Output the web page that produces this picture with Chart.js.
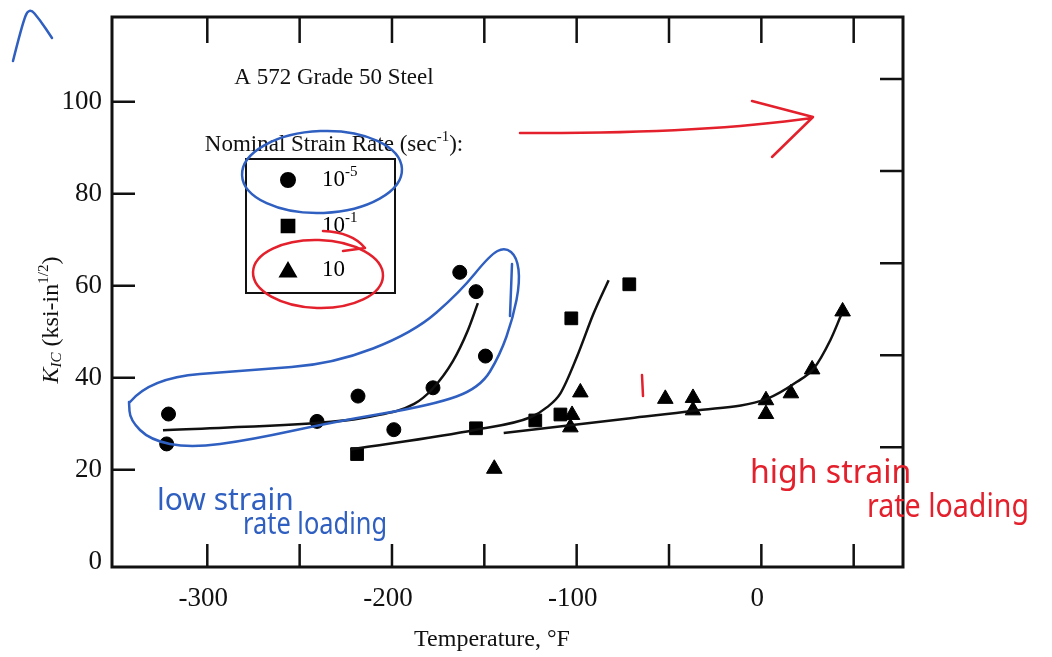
<!DOCTYPE html>
<html>
<head>
<meta charset="utf-8">
<script src="https://cdn.jsdelivr.net/npm/chart.js@4.4.1/dist/chart.umd.min.js"></script>
<style>
  html, body { margin: 0; padding: 0; background: #fff; }
  #wrap { width: 1052px; height: 657px; }
</style>
</head>
<body>
<div id="wrap"><canvas id="kic-chart" width="1052" height="657"></canvas></div>
<script>
// K_IC test points (temperature in °F, K_IC in ksi-in^1/2)
const temps5 = [-322, -321, -240.6, -218.4, -199, -177.8, -163.3, -154.5, -149.4];
const kic5 = [25.6, 32.1, 30.5, 36.0, 28.7, 37.8, 62.9, 58.7, 44.7];

const temps1 = [-218.9, -154.5, -122.4, -108.8, -102.9, -71.5];
const kic1 = [23.4, 29.0, 30.7, 32.0, 52.9, 60.3];

const temps10 = [-144.6, -103.4, -102.5, -98.0, -52, -37, -37, 2.5, 2.5, 16, 27.5, 44];
const kic10 = [20.2, 29.2, 31.9, 36.8, 35.4, 35.6, 32.9, 35.1, 32.1, 36.6, 41.8, 54.4];

// hand-fitted trend curves
const fit5T = [-324, -233, -212, -188, -178, -167, -159, -153.5];
const fit5K = [28.6, 30.4, 31.5, 34.3, 37.6, 43.6, 50.2, 56.2];
const fit1T = [-222.5, -154.5, -125, -116, -108.8, -99.8, -90.8, -82.7];
const fit1K = [24.4, 28.7, 31.4, 33.6, 36.6, 44.6, 54.0, 61.2];
const fit10T = [-139.5, -70.9, -36.6, 3, 19.3, 28.4, 37.4, 43.2];
const fit10K = [28.0, 31.2, 32.8, 35.4, 39.1, 42.0, 48.2, 53.6];

// axes
const xLabelTicks = [-300, -200, -100, 0];
const xTickMarks = [-300, -250, -200, -150, -100, -50, 0, 50];
const yTicks = [0, 20, 40, 60, 80, 100];
const yTickMarks = [20, 40, 60, 80, 100];
const rightTicks = [24.9, 44.9, 64.9, 84.9, 104.9];

const legendLabels = [['10', '-5'], ['10', '-1'], ['10', '']];
const legendStyles = ['circle', 'rect', 'triangle'];

const serif = '"Liberation Serif", "Times New Roman", serif';
const hand = '"Noto Sans", "DejaVu Sans", sans-serif';

const toPoints = (xs, ys) => xs.map((t, i) => ({ x: t, y: ys[i] }));

function fontOf(p) {
    return (p.italic ? 'italic ' : '') + p.size + 'px ' + serif;
}

// draws a run of text pieces (for sub/superscripts)
function drawRich(ctx, parts, x, y, align) {
    let w = 0;
    parts.forEach(p => { ctx.font = fontOf(p); w += ctx.measureText(p.t).width; });
    let cx = align === 'center' ? x - w / 2 : x;
    parts.forEach(p => {
        ctx.font = fontOf(p);
        ctx.fillText(p.t, cx, y + (p.dy || 0));
        cx += ctx.measureText(p.t).width;
    });
}

function smoothPath(ctx, pts) {
    ctx.beginPath();
    ctx.moveTo(pts[0][0], pts[0][1]);
    for (let i = 1; i < pts.length - 1; i++) {
        const mx = (pts[i][0] + pts[i + 1][0]) / 2;
        const my = (pts[i][1] + pts[i + 1][1]) / 2;
        ctx.quadraticCurveTo(pts[i][0], pts[i][1], mx, my);
    }
    const last = pts[pts.length - 1];
    ctx.lineTo(last[0], last[1]);
    ctx.stroke();
}

// frame, inward ticks, axis titles, legend box
const framePlugin = {
    id: 'frame',
    afterDraw(chart) {
        const { ctx, chartArea: a, scales: { x, y } } = chart;
        ctx.save();
        ctx.strokeStyle = '#111';
        ctx.lineWidth = 2.5;
        ctx.beginPath();
        xTickMarks.forEach(v => {
            const px = x.getPixelForValue(v);
            ctx.moveTo(px, a.bottom); ctx.lineTo(px, a.bottom - 23);
            ctx.moveTo(px, a.top); ctx.lineTo(px, a.top + 26);
        });
        yTickMarks.forEach(v => {
            const py = y.getPixelForValue(v);
            ctx.moveTo(a.left, py); ctx.lineTo(a.left + 23, py);
        });
        rightTicks.forEach(v => {
            const py = y.getPixelForValue(v);
            ctx.moveTo(a.right, py); ctx.lineTo(a.right - 23, py);
        });
        ctx.stroke();
        ctx.lineWidth = 3;
        ctx.strokeRect(a.left, a.top, a.right - a.left, a.bottom - a.top);

        ctx.fillStyle = '#111';
        ctx.textBaseline = 'middle';
        ctx.textAlign = 'left';
        // x title
        drawRich(ctx, [{ t: 'Temperature, °F', size: 24 }], 492, 640, 'center');
        // y title (rotated)
        ctx.save();
        ctx.translate(52, 320);
        ctx.rotate(-Math.PI / 2);
        drawRich(ctx, [
            { t: 'K', size: 24, italic: true },
            { t: 'IC', size: 15, italic: true, dy: 5 },
            { t: ' (ksi-in', size: 24 },
            { t: '1/2', size: 15, dy: -8 },
            { t: ')', size: 24 }
        ], 0, 0, 'center');
        ctx.restore();

        // legend
        drawRich(ctx, [{ t: 'A 572 Grade 50 Steel', size: 23 }], 334, 78, 'center');
        drawRich(ctx, [
            { t: 'Nominal Strain Rate (sec', size: 23 },
            { t: '-1', size: 15, dy: -8 },
            { t: '):', size: 23 }
        ], 334, 145, 'center');
        ctx.lineWidth = 2;
        ctx.strokeRect(246, 159, 149, 134);
        const rowY = [180, 226, 270];
        legendLabels.forEach((lab, i) => {
            ctx.fillStyle = '#000';
            ctx.strokeStyle = '#000';
            Chart.helpers.drawPoint(ctx, {
                pointStyle: legendStyles[i],
                radius: i === 0 ? 7 : 9,
                rotation: 0,
                borderWidth: 1
            }, 288, rowY[i] + (i === 2 ? 2 : 0));
            drawRich(ctx, [
                { t: lab[0], size: 23 },
                { t: lab[1], size: 15, dy: -8 }
            ], 322, rowY[i], 'left');
        });
        ctx.restore();
    }
};

// hand-written ink on top of the scan
const inkPlugin = {
    id: 'ink',
    afterDraw(chart) {
        const ctx = chart.ctx;
        ctx.save();
        ctx.lineCap = 'round';
        ctx.lineJoin = 'round';
        ctx.lineWidth = 2.5;

        // blue marks
        ctx.strokeStyle = '#2f5fc0';
        ctx.fillStyle = '#2f5fc0';
        smoothPath(ctx, [[13, 61], [22, 25], [29, 7], [40, 20], [52, 38]]);
        ctx.beginPath();
        ctx.ellipse(322, 172, 80, 41, -0.04, 0, Math.PI * 2);
        ctx.stroke();
        smoothPath(ctx, [[130, 402], [150, 378], [250, 370], [333, 364], [413, 333], [460, 292],
            [490, 255], [505, 247], [517, 257], [520, 282], [513, 318], [500, 355], [480, 388],
            [433, 405], [333, 422], [250, 440], [190, 448], [150, 440], [130, 420], [129, 402]]);
        smoothPath(ctx, [[512, 264], [511, 290], [510, 316]]);
        ctx.textBaseline = 'alphabetic';
        ctx.font = '30px ' + hand;
        ctx.fillText('low strain', 157, 510, 148);
        ctx.fillText('rate loading', 243, 534, 144);

        // red marks
        ctx.strokeStyle = '#e3202b';
        ctx.fillStyle = '#e3202b';
        ctx.beginPath();
        ctx.ellipse(318, 274, 65, 34, 0.03, 0, Math.PI * 2);
        ctx.stroke();
        ctx.beginPath();
        ctx.moveTo(323, 231);
        ctx.quadraticCurveTo(352, 232, 365, 248);
        ctx.moveTo(343, 251);
        ctx.lineTo(365, 248);
        ctx.stroke();
        ctx.beginPath();
        ctx.moveTo(520, 133);
        ctx.quadraticCurveTo(700, 134, 812, 118);
        ctx.moveTo(752, 101);
        ctx.lineTo(813, 117);
        ctx.lineTo(772, 157);
        ctx.moveTo(642, 375);
        ctx.lineTo(643, 396);
        ctx.stroke();
        ctx.font = '32px ' + hand;
        ctx.fillText('high strain', 750, 483, 168);
        ctx.fillText('rate loading', 867, 517, 162);
        ctx.restore();
    }
};

const markerSet = (data, style, radius) => ({
    data: data,
    showLine: false,
    pointStyle: style,
    pointRadius: radius,
    pointBackgroundColor: '#000',
    pointBorderColor: '#000',
    pointBorderWidth: 1
});

const fitLine = data => ({
    data: data,
    showLine: true,
    borderColor: '#111',
    borderWidth: 2.5,
    pointRadius: 0,
    cubicInterpolationMode: 'monotone',
    fill: false
});

const ctx = document.getElementById('kic-chart').getContext('2d');
new Chart(ctx, {
    type: 'scatter',
    data: {
        datasets: [
            fitLine(toPoints(fit5T, fit5K)),
            fitLine(toPoints(fit1T, fit1K)),
            fitLine(toPoints(fit10T, fit10K)),
            markerSet(toPoints(temps5, kic5), 'circle', 7),
            markerSet(toPoints(temps1, kic1), 'rect', 9),
            markerSet(toPoints(temps10, kic10), 'triangle', 9)
        ]
    },
    options: {
        responsive: false,
        animation: false,
        devicePixelRatio: 1,
        layout: { padding: { left: 0, top: 17, right: 149, bottom: 0 } },
        plugins: {
            legend: { display: false },
            tooltip: { enabled: false }
        },
        scales: {
            x: {
                type: 'linear',
                min: -351.6,
                max: 76.7,
                grid: { display: false, drawTicks: false },
                border: { display: false },
                afterBuildTicks: s => { s.ticks = xLabelTicks.map(v => ({ value: v })); },
                afterFit: s => {
                    s.height = 90;
                    s.paddingLeft = 0;
                    s.paddingRight = 0;
                },
                ticks: {
                    padding: 16,
                    labelOffset: -4,
                    color: '#111',
                    font: { family: serif, size: 27 },
                    callback: v => String(v)
                }
            },
            y: {
                type: 'linear',
                min: -1.15,
                max: 118.4,
                grid: { display: false, drawTicks: false },
                border: { display: false },
                afterBuildTicks: s => { s.ticks = yTicks.map(v => ({ value: v })); },
                afterFit: s => {
                    s.width = 112;
                    s.paddingTop = 0;
                    s.paddingBottom = 0;
                },
                ticks: {
                    padding: 10,
                    color: '#111',
                    font: { family: serif, size: 27 },
                    callback: v => String(v)
                }
            }
        }
    },
    plugins: [framePlugin, inkPlugin]
});
</script>
</body>
</html>
